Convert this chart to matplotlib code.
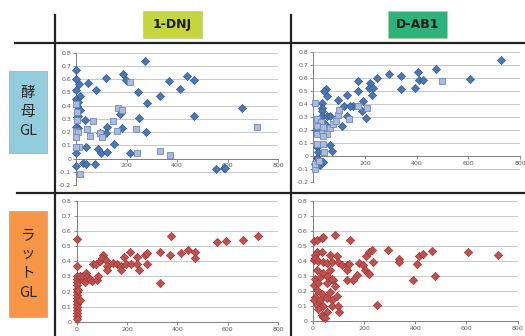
import numpy as np
import matplotlib.pyplot as plt
from matplotlib.patches import Rectangle
from matplotlib.lines import Line2D

W, H = 525, 336

# --- data (x, y) ---
dnj_yeast_d_x = [0, 0, 0, 13, 49, 79, 119, 185, 198, 274, 247, 280, 251, 278, 333, 369, 413, 439, 468, 468,
                 657, 556, 587, 591, 175, 181, 124, 119, 95, 152, 89, 98, 124, 214, 38, 36, 16, 16, 9, 9,
                 0, 0, 0, 29, 38, 75, 0, 5, 9, 3]
dnj_yeast_d_y = [0.67, 0.60, 0.52, 0.56, 0.57, 0.52, 0.61, 0.64, 0.59, 0.74, 0.505, 0.42, 0.31, 0.20, 0.47,
                 0.585, 0.525, 0.625, 0.59, 0.32, 0.38, -0.08, -0.07, -0.07, 0.335, 0.23, 0.235, 0.19, 0.195,
                 0.11, 0.075, 0.04, 0.05, 0.04, 0.085, 0.295, 0.47, 0.37, 0.32, 0.23, 0.235, 0.04, -0.06,
                 -0.035, -0.045, -0.04, 0.45, 0.40, 0.43, 0.315]
dnj_yeast_s_x = [214, 165, 183, 69, 148, 42, 56, 95, 102, 161, 238, 717, 243, 331, 373, 16, 13, 0, 0, 9, 0,
                 0, 3, 3]
dnj_yeast_s_y = [0.575, 0.38, 0.365, 0.28, 0.28, 0.22, 0.17, 0.19, 0.16, 0.205, 0.22, 0.235, 0.045, 0.055,
                 0.025, -0.115, 0.09, 0.09, 0.21, 0.20, 0.165, 0.415, 0.35, 0.29]

dab_yeast_d_x = [725, 606, 475, 406, 410, 426, 394, 338, 338, 294, 248, 219, 217, 232, 226, 174, 174, 194,
                 187, 204, 132, 119, 152, 142, 97, 132, 110, 49, 43, 54, 32, 32, 32, 32, 52, 65, 45, 10,
                 65, 71, 13, 19, 13, 6, 23, 32, 39, 26]
dab_yeast_d_y = [0.735, 0.59, 0.67, 0.645, 0.585, 0.585, 0.52, 0.61, 0.51, 0.625, 0.60, 0.56, 0.52, 0.52,
                 0.47, 0.575, 0.495, 0.42, 0.34, 0.29, 0.47, 0.38, 0.38, 0.38, 0.43, 0.305, 0.23, 0.51,
                 0.50, 0.46, 0.405, 0.37, 0.34, 0.305, 0.305, 0.305, 0.24, 0.20, 0.08, 0.04, 0.065, 0.025,
                 -0.015, -0.065, -0.065, -0.05, -0.045, -0.075]
dab_yeast_s_x = [497, 6, 13, 28, 15, 15, 32, 39, 54, 65, 77, 88, 97, 101, 139, 174, 209, 39, 15, 39, 41,
                 6, 6, 23]
dab_yeast_s_y = [0.575, 0.405, 0.28, 0.26, 0.23, 0.165, 0.19, 0.22, 0.165, 0.215, 0.245, 0.265, 0.315,
                 0.355, 0.28, 0.38, 0.37, 0.15, 0.09, 0.09, 0.025, -0.10, -0.065, -0.04]

dnj_rat_x = [0, 0, 0, 0, 0, 0, 0, 0, 0, 0, 0, 0, 0, 0, 0, 0, 0, 7, 13, 20, 13, 27, 37, 42, 33, 53, 60, 80,
             86, 66, 77, 93, 106, 99, 117, 119, 122, 146, 159, 175, 175, 188, 196, 212, 215, 239, 241,
             249, 272, 278, 281, 332, 332, 369, 374, 414, 444, 471, 471, 557, 594, 660, 719]
dnj_rat_y = [0.55, 0.37, 0.30, 0.28, 0.26, 0.24, 0.22, 0.20, 0.18, 0.16, 0.14, 0.12, 0.10, 0.08, 0.06,
             0.04, 0.02, 0.21, 0.145, 0.28, 0.30, 0.30, 0.325, 0.295, 0.26, 0.28, 0.27, 0.275, 0.30, 0.38,
             0.38, 0.40, 0.44, 0.42, 0.41, 0.37, 0.345, 0.39, 0.38, 0.37, 0.34, 0.43, 0.38, 0.465, 0.38,
             0.43, 0.38, 0.345, 0.44, 0.455, 0.38, 0.255, 0.465, 0.445, 0.565, 0.455, 0.475, 0.46, 0.42,
             0.525, 0.535, 0.54, 0.57]

dab_rat_x = [5, 16, 35, 42, 87, 146, 16, 35, 9, 5, 9, 22, 42, 55, 68, 74, 94, 100, 113, 133, 143, 135,
             68, 16, 9, 29, 42, 57, 81, 5, 22, 55, 87, 74, 16, 35, 68, 9, 55, 94, 5, 29, 74, 16, 42, 74,
             100, 22, 55, 104, 35, 42, 48, 135, 159, 172, 179, 198, 205, 216, 221, 208, 221, 230, 236,
             250, 295, 338, 338, 393, 408, 413, 432, 464, 477, 607, 725]
dab_rat_y = [0.53, 0.54, 0.55, 0.56, 0.57, 0.54, 0.46, 0.46, 0.44, 0.405, 0.42, 0.40, 0.39, 0.385, 0.44,
             0.39, 0.43, 0.39, 0.37, 0.37, 0.38, 0.34, 0.34, 0.34, 0.28, 0.29, 0.32, 0.30, 0.27, 0.24,
             0.25, 0.25, 0.23, 0.28, 0.205, 0.18, 0.19, 0.16, 0.155, 0.165, 0.14, 0.14, 0.14, 0.105,
             0.095, 0.095, 0.095, 0.075, 0.06, 0.06, 0.04, 0.025, 0.02, 0.27, 0.27, 0.305, 0.385, 0.37,
             0.34, 0.32, 0.31, 0.43, 0.46, 0.47, 0.39, 0.105, 0.47, 0.41, 0.39, 0.27, 0.38, 0.43, 0.445,
             0.465, 0.30, 0.46, 0.44]

col_labels = ['1-DNJ', 'D-AB1']
row_labels = ['酵\n母\nGL', 'ラ\nッ\nト\nGL']


def box(x0, y0, x1, y1):
    # pixel box (top-left origin) -> figure fraction [l, b, w, h]
    return [x0 / W, 1 - y1 / H, (x1 - x0) / W, (y1 - y0) / H]


fig = plt.figure(figsize=(5.25, 3.36), dpi=100)

grey = '#7f7f7f'
blue = '#4a78b5'
blue_e = '#34598c'
sq = '#a9bce0'
sq_e = '#7289b8'
red = '#c0504d'
red_e = '#9c3a38'


def setup(ax, ymin, zero_label):
    ax.set_xlim(0, 800)
    ax.set_ylim(ymin, 0.8)
    yt = np.round(np.arange(ymin, 0.81, 0.1), 1)
    ax.set_yticks(yt)
    ax.set_yticklabels(['0' if v == 0 else ('%.1f' % v) for v in yt])
    xt = [0, 200, 400, 600, 800] if zero_label else [200, 400, 600, 800]
    ax.set_xticks(xt)
    ax.grid(axis='y', color='#c8c8c8', lw=0.7)
    ax.set_axisbelow(True)
    for s in ['top', 'right']:
        ax.spines[s].set_visible(False)
    ax.spines['left'].set_color(grey)
    ax.spines['left'].set_linewidth(0.7)
    ax.spines['bottom'].set_color(grey)
    ax.spines['bottom'].set_linewidth(0.7)
    ax.spines['bottom'].set_position(('data', 0))
    ax.tick_params(labelsize=4.5, colors='#595959', length=2, width=0.5, pad=1.5)
    ax.patch.set_alpha(0)


ax1 = fig.add_axes(box(76, 52.7, 278, 185))
setup(ax1, -0.2, False)
ax1.scatter(dnj_yeast_d_x, dnj_yeast_d_y, marker='D', s=17, c=blue, edgecolors=blue_e, linewidths=0.5,
            clip_on=False, zorder=3)
ax1.scatter(dnj_yeast_s_x, dnj_yeast_s_y, marker='s', s=18, c=sq, edgecolors=sq_e, linewidths=0.6,
            clip_on=False, zorder=4)

ax2 = fig.add_axes(box(313.3, 51.7, 520, 181.7))
setup(ax2, -0.2, False)
ax2.scatter(dab_yeast_d_x, dab_yeast_d_y, marker='D', s=17, c=blue, edgecolors=blue_e, linewidths=0.5,
            clip_on=False, zorder=3)
ax2.scatter(dab_yeast_s_x, dab_yeast_s_y, marker='s', s=18, c=sq, edgecolors=sq_e, linewidths=0.6,
            clip_on=False, zorder=4)

ax3 = fig.add_axes(box(76.7, 201, 278, 321.7))
setup(ax3, 0.0, True)
ax3.scatter(dnj_rat_x, dnj_rat_y, marker='D', s=18, c=red, edgecolors=red_e, linewidths=0.5,
            clip_on=False, zorder=3)

ax4 = fig.add_axes(box(312.7, 201, 517.7, 320.7))
setup(ax4, 0.0, True)
ax4.scatter(dab_rat_x, dab_rat_y, marker='D', s=18, c=red, edgecolors=red_e, linewidths=0.5,
            clip_on=False, zorder=3)

# frame lines of the table
for (x0, y0, x1, y1) in [(15, 43, 525, 43), (17, 193, 525, 193), (55, 15, 55, 336), (291, 15, 291, 336)]:
    fig.add_artist(Line2D([x0 / W, x1 / W], [1 - y0 / H, 1 - y1 / H], color='#222222', lw=1.6,
                          transform=fig.transFigure))

# column headers
hdr_col = ['#c5d63c', '#2bb37a']
hdr_box = [(143, 11, 202, 38), (388, 11, 447, 38)]
for lab, c, b in zip(col_labels, hdr_col, hdr_box):
    l, bt, w, h = box(*b)
    fig.add_artist(Rectangle((l, bt), w, h, transform=fig.transFigure, fc=c, ec='#b8c9a0', lw=0.5))
    fig.text(l + w / 2, bt + h / 2, lab, ha='center', va='center', fontsize=9, fontweight='bold',
             color='#1a1a1a')

# row headers
row_col = ['#93cddd', '#f79646']
row_box = [(9, 71, 47, 153), (9, 211, 47, 317)]
for lab, c, b in zip(row_labels, row_col, row_box):
    l, bt, w, h = box(*b)
    fig.add_artist(Rectangle((l, bt), w, h, transform=fig.transFigure, fc=c, ec='#9aa9b0', lw=0.5))
    fig.text(l + w / 2, bt + h / 2, lab, ha='center', va='center', fontsize=10.5, linespacing=1.5,
             family=['Noto Sans CJK JP', 'DejaVu Sans'], color='#262626')

plt.savefig('out.png', dpi=100)
